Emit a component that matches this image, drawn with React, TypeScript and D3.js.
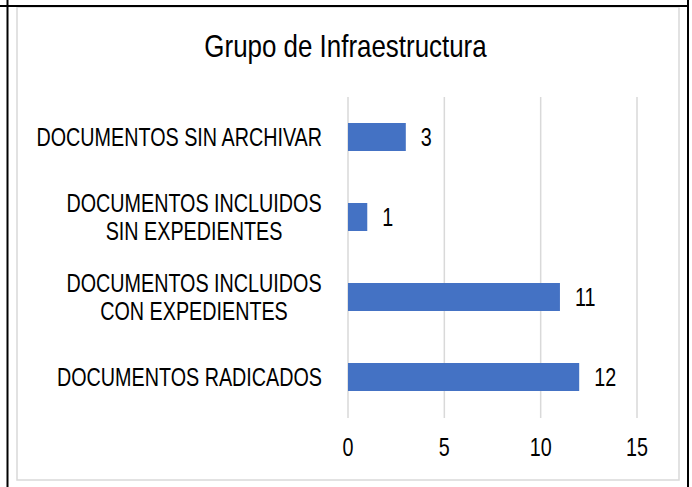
import React from "react";
import * as d3 from "d3";

const categories = [
  ["DOCUMENTOS SIN ARCHIVAR"],
  ["DOCUMENTOS INCLUIDOS", "SIN EXPEDIENTES"],
  ["DOCUMENTOS INCLUIDOS", "CON EXPEDIENTES"],
  ["DOCUMENTOS RADICADOS"],
];
const values = [3, 1, 11, 12];
const ticks = [0, 5, 10, 15];
const title = "Grupo de Infraestructura";

const W = 692;
const H = 487;
const FONT = "'Liberation Sans', Arial, sans-serif";

function NarrowText({ x, y, anchor, size, scale = 0.79, children }: any) {
  return (
    <text
      transform={`translate(${x},${y}) scale(${scale},1)`}
      textAnchor={anchor}
      fontFamily={FONT}
      fontSize={size}
      fill="#000"
    >
      {children}
    </text>
  );
}

export default function App() {
  const x = d3.scaleLinear().domain([0, 15]).range([348, 637]);
  const keys = categories.map((c) => c.join(" "));
  const y = d3
    .scaleBand<string>()
    .domain(keys)
    .range([97, 417])
    .paddingInner(0.65)
    .paddingOuter(0.325);
  const bw = y.bandwidth();
  const labelRight = 322;
  const fs = 25;
  const lineH = 28;
  const longest = 256;
  const wrapCenter = labelRight - longest / 2;

  return (
    <svg
      width={W}
      height={H}
      style={{ position: "absolute", left: 0, top: 0, background: "#fff" }}
    >
      <rect x={0} y={0} width={W} height={H} fill="#fff" />
      <rect x={17} y={7} width={662} height={473} fill="#fff" stroke="#d9d9d9" strokeWidth={1.5} />
      <line x1={0} x2={689} y1={6} y2={6} stroke="#000" strokeWidth={2} />
      <line x1={7.5} x2={7.5} y1={0} y2={H} stroke="#000" strokeWidth={2} />
      <line x1={688} x2={688} y1={0} y2={H} stroke="#000" strokeWidth={2} />

      <NarrowText x={345.5} y={57} anchor="middle" size={32} scale={0.81}>
        {title}
      </NarrowText>

      {ticks.map((t) => (
        <line key={t} x1={x(t)} x2={x(t)} y1={97} y2={418} stroke="#d9d9d9" strokeWidth={1.5} />
      ))}

      {categories.map((c, i) => {
        const k = keys[i];
        const y0 = y(k)!;
        const cy = y0 + bw / 2 + 9;
        return (
          <g key={k}>
            <rect x={x(0)} y={y0} width={x(values[i]) - x(0)} height={bw} fill="#4472c4" />
            <NarrowText x={x(values[i]) + 15} y={cy} anchor="start" size={fs}>
              {values[i]}
            </NarrowText>
            {c.length === 1 ? (
              <NarrowText x={labelRight} y={cy} anchor="end" size={fs}>
                {c[0]}
              </NarrowText>
            ) : (
              c.map((line, j) => (
                <NarrowText
                  key={j}
                  x={wrapCenter}
                  y={cy + (j - (c.length - 1) / 2) * lineH}
                  anchor="middle"
                  size={fs}
                >
                  {line}
                </NarrowText>
              ))
            )}
          </g>
        );
      })}

      {ticks.map((t) => (
        <NarrowText key={t} x={x(t)} y={456} anchor="middle" size={fs}>
          {t}
        </NarrowText>
      ))}
    </svg>
  );
}
